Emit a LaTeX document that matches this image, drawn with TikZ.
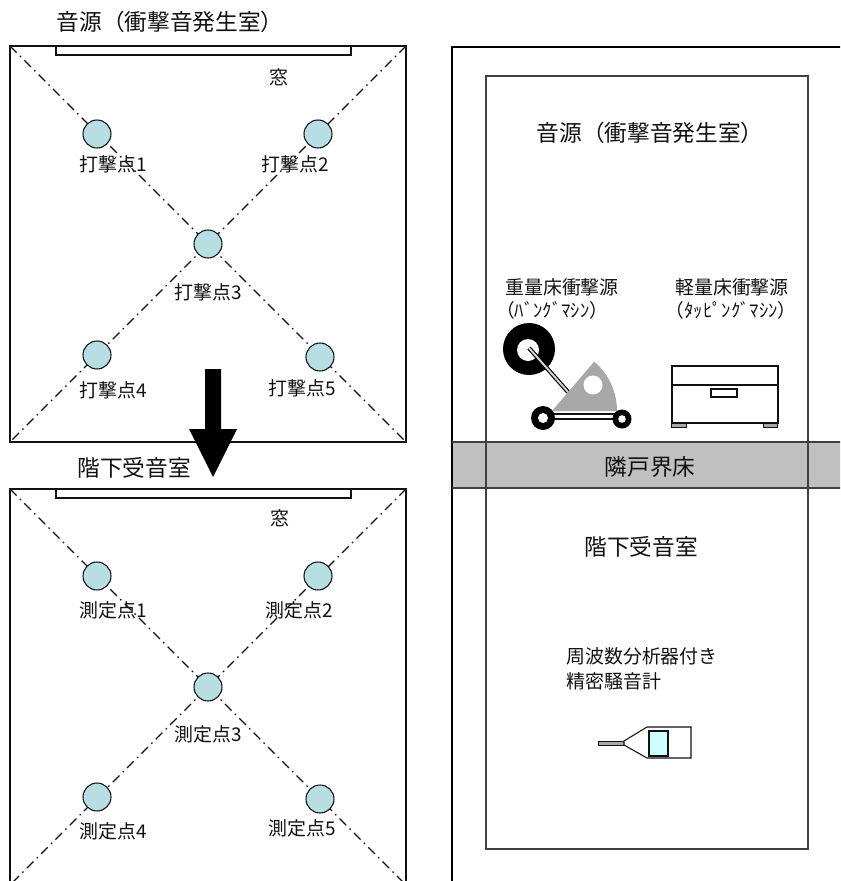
\documentclass[tikz,border=0pt]{standalone}
\usepackage{fontspec}
\setmainfont{Noto Sans CJK JP}
\definecolor{ptfill}{RGB}{183,222,226}
\definecolor{floorgray}{RGB}{192,192,192}
\definecolor{partgray}{RGB}{168,168,168}
\definecolor{framegray}{RGB}{64,64,64}
\definecolor{screen}{RGB}{204,255,255}
\definecolor{ink}{RGB}{17,17,17}
\tikzset{
  roomline/.style={draw=ink, line width=1pt},
  diag/.style={draw=ink, line width=0.9pt, dash pattern=on 7pt off 3.5pt on 1.2pt off 3.5pt},
  winbox/.style={draw=ink, fill=white, line width=1pt},
  spot/.style={circle, draw=ink, fill=ptfill, line width=0.8pt, minimum size=21pt, inner sep=0pt},
  lbl/.style={text=ink, inner sep=0pt, font=\fontsize{14.2pt}{16pt}\selectfont},
  big/.style={text=ink, inner sep=0pt, font=\fontsize{17pt}{19pt}\selectfont},
  kana/.style={text=ink, inner sep=0pt, font=\fontsize{14pt}{16pt}\selectfont},
  outline/.style={draw=ink, line width=0.8pt}
}
\begin{document}
\begin{tikzpicture}[x=0.75pt,y=-0.75pt]
\useasboundingbox (0,0) rectangle (840,881);
\clip (0,0) rectangle (840,881);

% ---------- impact room (plan) ----------
\node[big] (titleA) at (170,22) {音源（衝撃音発生室）};
\coordinate (a-nw) at (10,46);
\coordinate (a-ne) at (406,46);
\coordinate (a-se) at (406,442);
\coordinate (a-sw) at (10,442);
\draw[diag] (a-nw) -- (a-se);
\draw[diag] (a-ne) -- (a-sw);
\draw[roomline] (a-nw) rectangle (a-se);
\draw[winbox] (56,46) rectangle (351,55);
\node[lbl] (winA) at (279,77) {窓};
\node[spot] (a1) at (97,134) {};
\node[spot] (a2) at (318,134) {};
\node[spot] (a3) at (208,244) {};
\node[spot] (a4) at (97,355) {};
\node[spot] (a5) at (320,357) {};
\node[lbl] (a1l) at (113,164) {打撃点1};
\node[lbl] (a2l) at (295,164) {打撃点2};
\node[lbl] (a3l) at (208,292) {打撃点3};
\node[lbl] (a4l) at (113,390) {打撃点4};
\node[lbl] (a5l) at (302,388) {打撃点5};

% ---------- receiving room (plan) ----------
\node[big] (titleB) at (134,468) {階下受音室};
\coordinate (b-nw) at (10,489);
\coordinate (b-ne) at (406,489);
\coordinate (b-se) at (406,885);
\coordinate (b-sw) at (10,885);
\draw[diag] (b-nw) -- (b-se);
\draw[diag] (b-ne) -- (b-sw);
\draw[roomline] (b-nw) rectangle (b-se);
\draw[winbox] (56,489) rectangle (351,498);
\node[lbl] (winB) at (280,518) {窓};
\node[spot] (b1) at (97,576) {};
\node[spot] (b2) at (318,576) {};
\node[spot] (b3) at (208,687) {};
\node[spot] (b4) at (97,797) {};
\node[spot] (b5) at (320,799) {};
\node[lbl] (b1l) at (113,610) {測定点1};
\node[lbl] (b2l) at (299,610) {測定点2};
\node[lbl] (b3l) at (208,734) {測定点3};
\node[lbl] (b4l) at (113,831) {測定点4};
\node[lbl] (b5l) at (302,828) {測定点5};

% downward block arrow
\fill[black] (205,369) -- (221,369) -- (221,429) -- (237,429) -- (213,477)
  -- (189,429) -- (205,429) -- cycle;

% ---------- section view ----------
\fill[floorgray] (452,442) rectangle (860,488);
\draw[draw=black, line width=1pt] (452,890) -- (452,47) -- (860,47);
\draw[draw=framegray, line width=1.1pt] (486,76) rectangle (808,849);
\draw[draw=framegray, line width=1.1pt] (452,442) -- (860,442);
\draw[draw=framegray, line width=1.1pt] (452,488) -- (860,488);
\node[big] (srcR) at (650,133) {音源（衝撃音発生室）};
\node[big] (floor) at (650,467) {隣戸界床};
\node[big] (rcvR) at (641,547) {階下受音室};

% heavy impact source
\node[lbl] (heavy) at (562,287) {重量床衝撃源};
\node[kana] (heavyk) at (552,310) {（ﾊﾞﾝｸﾞﾏｼﾝ）};
\fill[black] (529,349) circle[radius=26];
\fill[white] (528,350) circle[radius=11];
\draw[black, line width=3.2pt] (529,348) -- (568,392);
\draw[white!85!black, line width=1.4pt] (529,348) -- (568,392);
\fill[partgray] (552,411) -- (617,411) arc[start angle=0, end angle=-49.5, radius=65] -- cycle;
\fill[white] (593,385) circle[radius=9.5];
\draw[outline, fill=white] (545,414) rectangle (622,419);
\fill[black] (543,418) circle[radius=12];
\fill[white] (543,418) circle[radius=5];
\fill[black] (622,419) circle[radius=9.5];
\fill[white] (622,419) circle[radius=3.8];

% light impact source
\node[lbl] (light) at (732,287) {軽量床衝撃源};
\node[kana] (lightk) at (731,310) {（ﾀｯﾋﾟﾝｸﾞﾏｼﾝ）};
\draw[outline, fill=white] (672,366) rectangle (778,423);
\draw[outline] (672,385) -- (778,385);
\draw[outline] (711,389) rectangle (737,397);
\draw[draw=ink, line width=0.6pt, fill=partgray] (671,423) rectangle (686,427);
\draw[draw=ink, line width=0.6pt, fill=partgray] (763,423) rectangle (777,427);

% sound level meter
\node[lbl, anchor=west] (meter1) at (566,656) {周波数分析器付き};
\node[lbl, anchor=west] (meter2) at (566,681) {精密騒音計};
\draw[draw=ink, line width=0.6pt, fill=partgray] (598,741) rectangle (624,745);
\draw[outline, fill=white] (624,741) -- (647,727) -- (691,727) -- (691,758) -- (647,758) -- (624,745) -- cycle;
\draw[outline, fill=screen] (649,731) rectangle (668,756);
\end{tikzpicture}
\end{document}
